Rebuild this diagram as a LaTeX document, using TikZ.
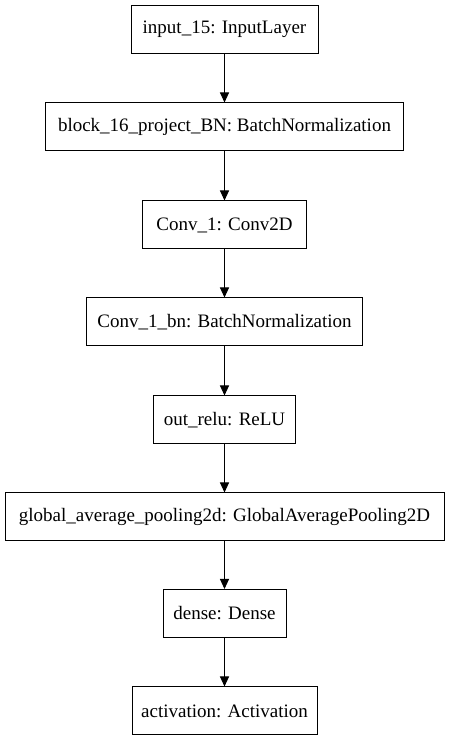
\documentclass[tikz,border=0pt]{standalone}
\usepackage{fontspec}
\setmainfont{Liberation Serif}
\usetikzlibrary{arrows.meta}
\begin{document}
\begin{tikzpicture}[x=1pt,y=1pt,
  layer/.style={draw=black, line width=1pt, minimum height=48pt, inner sep=0pt, font=\fontsize{19pt}{21pt}\selectfont, fill=white},
  conn/.style={line width=1pt, -{Triangle[length=10pt,width=9pt]}}]
\useasboundingbox (0,0) rectangle (449,741);
\node[layer, minimum width=187pt] (n1) at (224.5,741-29.5) {input\_15: InputLayer};
\node[layer, minimum width=358pt] (n2) at (224.5,741-127) {block\_16\_project\_BN: BatchNormalization};
\node[layer, minimum width=164pt] (n3) at (224.5,741-225) {Conv\_1: Conv2D};
\node[layer, minimum width=276pt] (n4) at (224.5,741-322) {Conv\_1\_bn: BatchNormalization};
\node[layer, minimum width=142pt] (n5) at (224.5,741-420) {out\_relu: ReLU};
\node[layer, minimum width=439pt] (n6) at (224.5,741-517) {global\_average\_pooling2d: GlobalAveragePooling2D};
\node[layer, minimum width=123pt] (n7) at (224.5,741-613.5) {dense: Dense};
\node[layer, minimum width=185pt] (n8) at (224.5,741-711) {activation: Activation};
\draw[conn] (n1) -- (n2);
\draw[conn] (n2) -- (n3);
\draw[conn] (n3) -- (n4);
\draw[conn] (n4) -- (n5);
\draw[conn] (n5) -- (n6);
\draw[conn] (n6) -- (n7);
\draw[conn] (n7) -- (n8);
\end{tikzpicture}
\end{document}
